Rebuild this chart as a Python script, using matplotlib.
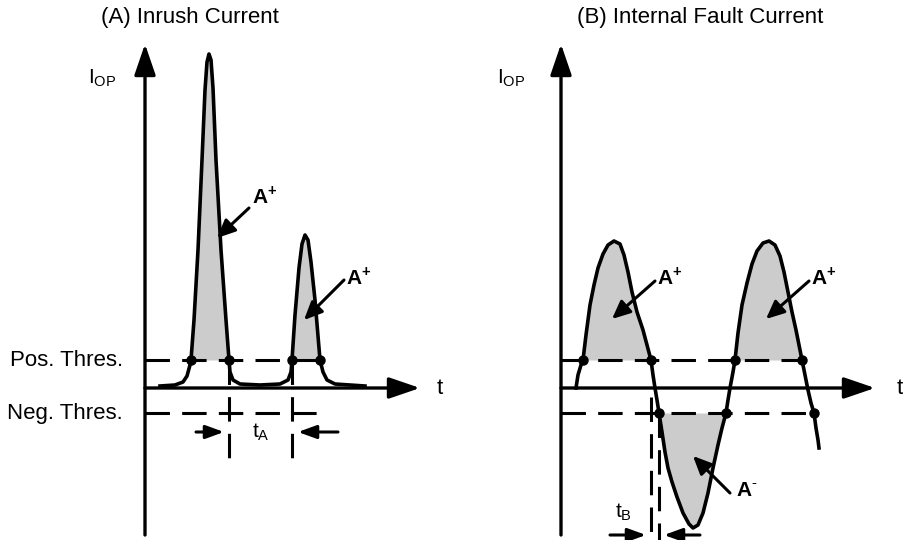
import matplotlib.pyplot as plt

plt.rcParams['font.family'] = ['Liberation Sans', 'DejaVu Sans']
plt.rcParams['mathtext.fontset'] = 'custom'
plt.rcParams['mathtext.rm'] = 'Liberation Sans'
plt.rcParams['mathtext.bf'] = 'Liberation Sans:bold'

# sketch coordinates (pixels of the 904x540 picture, y grows downwards)
POS_THR = 360
NEG_THR = 413
T_AXIS = 388

# (A) inrush current
inrush_x = [160, 175, 183, 187, 190, 191, 194, 198, 202, 205, 207, 209, 211, 213, 216, 221, 226, 229,
            230, 233, 240, 260, 280, 288, 291, 292, 295, 299, 302, 305, 308, 311, 315, 320,
            323, 327, 335, 350, 365]
inrush_y = [386, 385, 382, 376, 365, 360, 320, 250, 160, 90, 62, 54, 60, 88, 160, 250, 320, 360,
            372, 380, 384, 385, 384, 380, 372, 360, 315, 268, 244, 235, 240, 262, 300, 360,
            372, 380, 384, 385, 386]
inrush_cross = [191, 229, 292, 320]

# (B) internal fault current
fault_x = [576, 578, 581, 583, 586, 590, 594, 598, 603, 608, 614, 620, 624, 628, 632, 637, 643, 647, 651,
           653, 655, 657, 659, 662, 665, 668, 672, 677, 683, 689, 693, 698, 703, 708, 713, 718, 722, 726,
           728, 730, 733, 735, 738, 742, 747, 752, 757, 763, 769, 775, 780, 784, 788, 792, 796, 799, 802,
           805, 808, 811, 814, 816, 818, 819]
fault_y = [388, 375, 365, 360, 335, 305, 285, 268, 254, 245, 241, 244, 255, 272, 292, 312, 330, 345, 360,
           375, 388, 400, 413, 432, 452, 468, 482, 497, 513, 524, 528, 525, 513, 493, 468, 445, 428, 413,
           400, 388, 372, 360, 333, 305, 283, 264, 251, 243, 241, 245, 256, 272, 292, 312, 330, 345, 360,
           375, 390, 403, 413, 428, 440, 448]
fault_pos_cross = [583, 651, 735, 802]
fault_neg_cross = [659, 726, 814]

A_POS = r'$\mathbf{A}^{\mathbf{+}}$'
A_NEG = r'$\mathbf{A}^{\text{-}}$'

fig = plt.figure(figsize=(9.04, 5.4), dpi=100)
ax = fig.add_axes([0, 0, 1, 1])
ax.set_xlim(0, 904)
ax.set_ylim(540, 0)
ax.axis('off')

LW = 2.2
DASH = (8, 4)


def arrow(tail, tip, hl, hw, lw=LW):
    ax.annotate('', xy=tip, xytext=tail,
                arrowprops=dict(arrowstyle='-|>,head_length=%g,head_width=%g' % (hl, hw),
                                color='k', lw=lw, shrinkA=0, shrinkB=0, mutation_scale=1))


def fill_piece(xs, ys, x0, x1, level):
    px = [x for x in xs if x0 <= x <= x1]
    py = [y for x, y in zip(xs, ys) if x0 <= x <= x1]
    ax.fill_between(px, py, level, color='#cccccc', lw=0, zorder=1)


# ---- panel A ----
ax.text(190, 17, '(A) Inrush Current', ha='center', va='center', fontsize=16)
arrow((145, 535), (145, 44), 19, 6.5, lw=2.4)
arrow((145, T_AXIS), (420, T_AXIS), 19, 6.5, lw=2.4)
ax.text(88, 78, r'$\mathregular{I_{OP}}$', ha='left', va='center', fontsize=15)
ax.text(440, T_AXIS, 't', ha='center', va='center', fontsize=16)
ax.text(123, POS_THR, 'Pos. Thres.', ha='right', va='center', fontsize=16)
ax.text(123, NEG_THR, 'Neg. Thres.', ha='right', va='center', fontsize=16)

ax.plot([145, 325], [POS_THR, POS_THR], color='k', lw=LW, dashes=DASH, zorder=2)
ax.plot([145, 322], [NEG_THR, NEG_THR], color='k', lw=LW, dashes=DASH, zorder=2)
for xc in inrush_cross[1:3]:
    ax.plot([xc, xc], [POS_THR, 462], color='k', lw=LW, dashes=DASH, zorder=2)

fill_piece(inrush_x, inrush_y, inrush_cross[0], inrush_cross[1], POS_THR)
fill_piece(inrush_x, inrush_y, inrush_cross[2], inrush_cross[3], POS_THR)
ax.plot(inrush_x, inrush_y, color='k', lw=2.6, solid_joinstyle='round', zorder=3)
ax.plot(inrush_cross, [POS_THR] * 4, 'o', color='k', ms=6.5, zorder=4)

arrow((196, 432), (224, 432), 11, 4)
arrow((338, 432), (298, 432), 11, 4)
ax.text(252, 432, r'$\mathregular{t_A}$', ha='left', va='center', fontsize=15)

ax.text(252, 196, A_POS, ha='left', va='center', fontsize=15)
arrow((249, 208), (217, 238), 11, 5)
ax.text(346, 277, A_POS, ha='left', va='center', fontsize=15)
arrow((344, 280), (304, 320), 11, 5)

# ---- panel B ----
ax.text(700, 17, '(B) Internal Fault Current', ha='center', va='center', fontsize=16)
arrow((561, 535), (561, 44), 19, 6.5, lw=2.4)
arrow((561, T_AXIS), (875, T_AXIS), 19, 6.5, lw=2.4)
ax.text(497, 78, r'$\mathregular{I_{OP}}$', ha='left', va='center', fontsize=15)
ax.text(900, T_AXIS, 't', ha='center', va='center', fontsize=16)

ax.plot([561, 805], [POS_THR, POS_THR], color='k', lw=LW, dashes=DASH, zorder=2)
ax.plot([561, 818], [NEG_THR, NEG_THR], color='k', lw=LW, dashes=DASH, zorder=2)
ax.plot([651, 651], [397, 540], color='k', lw=LW, dashes=DASH, zorder=2)
ax.plot([659, 659], [413, 540], color='k', lw=LW, dashes=DASH, zorder=2)

fill_piece(fault_x, fault_y, fault_pos_cross[0], fault_pos_cross[1], POS_THR)
fill_piece(fault_x, fault_y, fault_pos_cross[2], fault_pos_cross[3], POS_THR)
fill_piece(fault_x, fault_y, fault_neg_cross[0], fault_neg_cross[1], NEG_THR)
ax.plot(fault_x, fault_y, color='k', lw=2.6, solid_joinstyle='round', zorder=3)
ax.plot(fault_pos_cross, [POS_THR] * 4, 'o', color='k', ms=6.5, zorder=4)
ax.plot(fault_neg_cross, [NEG_THR] * 3, 'o', color='k', ms=6.5, zorder=4)

arrow((610, 535), (646, 535), 11, 4)
arrow((700, 535), (664, 535), 11, 4)
ax.text(615, 512, r'$\mathregular{t_B}$', ha='left', va='center', fontsize=15)

ax.text(657, 277, A_POS, ha='left', va='center', fontsize=15)
arrow((655, 281), (612, 319), 11, 5)
ax.text(811, 277, A_POS, ha='left', va='center', fontsize=15)
arrow((809, 281), (766, 319), 11, 5)
ax.text(736, 490, A_NEG, ha='left', va='center', fontsize=15)
arrow((730, 493), (693, 456), 11, 5)

fig.savefig('out.png', dpi=100)
